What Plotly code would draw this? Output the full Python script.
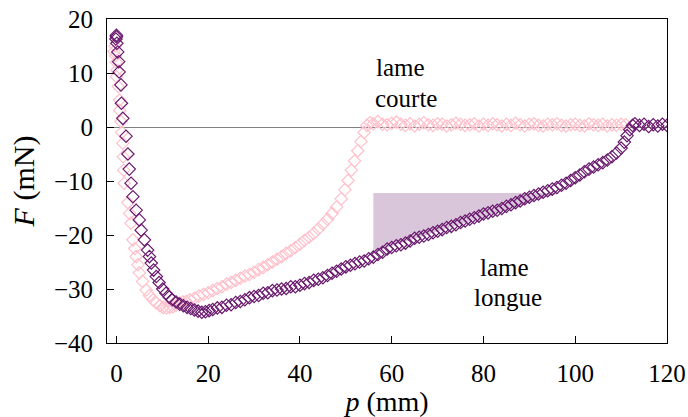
import plotly.graph_objects as go

# lame longue (purple)
p_longue = [0.0, 0.0, -0.1, 0.1, 0.3, 0.5, 0.6, 1.0, 1.1, 1.4, 2.1, 2.5, 2.8, 3.2, 3.6, 4.3, 5.0, 5.4, 6.1, 6.8,
            7.2, 7.6, 8.1, 8.7, 9.3, 10.1, 10.8, 11.5, 12.2, 13.0, 13.8, 14.6, 15.4, 16.2, 17.0, 17.8, 18.6, 19.4,
            20.2, 21.0, 22.0, 23.0, 24.0, 25.0, 26.0, 27.0, 28.0, 29.0, 30.0, 31.0, 32.0, 33.0, 34.0, 35.0, 36.0,
            37.0, 38.0, 39.0, 40.0, 41.0, 42.0, 43.0, 44.0, 45.0, 46.0, 47.0, 48.0, 49.0, 50.0, 51.0, 52.0, 53.0,
            54.0, 55.0, 56.0, 57.0, 58.0, 59.0, 60.0, 61.0, 62.0, 63.0, 64.0, 65.0, 66.0, 67.0, 68.0, 69.0, 70.0,
            71.0, 72.0, 73.0, 74.0, 75.0, 76.0, 77.0, 78.0, 79.0, 80.0, 81.0, 82.0, 83.0, 84.0, 85.0, 86.0, 87.0,
            88.0, 89.0, 90.0, 91.0, 92.0, 93.0, 94.0, 95.0, 96.0, 97.0, 98.0, 99.0, 100.0, 101.0, 102.0, 103.0,
            104.0, 105.0, 106.0, 107.0, 108.0, 109.0, 110.0, 110.7, 111.3, 111.9, 112.5, 113.0, 114.0, 115.0,
            116.0, 117.0, 118.0, 119.0, 120.0]
F_longue = [17.0, 16.7, 16.3, 15.5, 13.9, 12.1, 10.2, 7.8, 4.4, 1.6, -1.7, -5.0, -7.8, -10.4, -12.9, -15.4, -17.2,
            -19.1, -20.9, -22.8, -24.0, -25.2, -26.5, -27.7, -28.8, -30.0, -30.8, -31.5, -32.0, -32.4, -32.8, -33.1,
            -33.4, -33.6, -33.9, -34.1, -34.3, -34.2, -34.0, -33.8, -33.5, -33.4, -33.0, -32.9, -32.5, -32.3, -32.0,
            -31.6, -31.4, -31.2, -30.8, -30.7, -30.3, -30.2, -30.0, -29.9, -29.6, -29.6, -29.3, -29.0, -28.8, -28.4,
            -28.2, -27.9, -27.5, -27.1, -26.7, -26.3, -25.9, -25.6, -25.3, -25.0, -24.8, -24.4, -24.1, -23.6, -23.2,
            -22.6, -22.3, -22.0, -21.8, -21.5, -21.1, -20.6, -20.4, -20.2, -19.9, -19.6, -19.3, -19.0, -18.6, -18.4,
            -18.1, -17.7, -17.4, -17.1, -16.8, -16.5, -16.1, -15.9, -15.6, -15.4, -15.1, -14.7, -14.4, -14.0, -13.7,
            -13.3, -13.0, -12.7, -12.4, -12.1, -11.8, -11.5, -11.2, -10.8, -10.4, -9.9, -9.4, -8.9, -8.3, -7.8,
            -7.4, -7.0, -6.6, -6.1, -5.5, -4.8, -3.9, -2.8, -1.6, -0.5, 0.3, 0.6, 0.3, 0.5, 0.1, 0.4, 0.2, 0.5, 0.3]

# lame courte (pink)
p_courte = [-0.3, -0.5, -0.2, 0.0, 0.1, 0.0, 0.4, 0.7, 0.7, 1.0, 1.2, 1.4, 1.5, 1.6, 1.7, 2.5, 2.9, 3.2, 3.6, 4.0,
            4.3, 4.7, 5.0, 5.7, 6.5, 7.2, 8.0, 8.7, 9.5, 10.2, 10.9, 11.6, 12.3, 13.0, 13.8, 14.5, 15.2, 16.0,
            17.0, 18.0, 19.0, 20.0, 21.0, 22.0, 23.0, 24.0, 25.0, 26.0, 27.0, 28.0, 29.0, 30.0, 31.0, 32.0, 33.0,
            34.0, 35.0, 36.0, 37.0, 38.0, 39.0, 40.0, 41.0, 42.0, 43.0, 44.0, 45.0, 46.0, 47.0, 48.0, 49.0, 49.8,
            50.5, 51.2, 51.9, 52.6, 53.3, 54.0, 54.6, 55.3, 56.0, 57.0, 58.0, 59.0, 60.0, 61.0, 62.0, 63.0, 64.0,
            65.0, 66.0, 67.0, 68.0, 69.0, 70.0, 71.0, 72.0, 73.0, 74.0, 75.0, 76.0, 77.0, 78.0, 79.0, 80.0, 81.0,
            82.0, 83.0, 84.0, 85.0, 86.0, 87.0, 88.0, 89.0, 90.0, 91.0, 92.0, 93.0, 94.0, 95.0, 96.0, 97.0, 98.0,
            99.0, 100.0, 101.0, 102.0, 103.0, 104.0, 105.0, 106.0, 107.0, 108.0, 109.0, 110.0, 111.0, 112.0, 113.0]
F_courte = [15.0, 14.0, 13.2, 12.0, 10.5, 9.3, 7.5, 5.0, 3.1, 1.0, -1.0, -3.0, -5.5, -8.0, -10.4, -14.0, -16.0,
            -17.8, -20.9, -22.5, -24.0, -25.5, -27.0, -28.6, -30.2, -31.2, -32.0, -32.6, -33.1, -33.4, -33.5, -33.4,
            -33.3, -33.0, -32.6, -32.4, -32.3, -32.0, -31.7, -31.3, -31.0, -30.7, -30.3, -29.9, -29.6, -29.1, -28.8,
            -28.4, -28.0, -27.6, -27.3, -26.9, -26.4, -26.0, -25.5, -25.0, -24.5, -24.0, -23.4, -22.9, -22.3, -21.7,
            -21.0, -20.4, -19.7, -18.9, -18.0, -17.1, -16.0, -14.8, -13.3, -11.6, -9.9, -8.0, -6.3, -4.4, -2.7,
            -1.0, 0.3, 0.8, 0.6, 1.0, 0.5, 0.4, 0.7, 0.9, 0.5, 0.3, 0.6, 0.2, 0.5, 0.8, 0.4, 0.3, 0.6, 0.5, 0.2,
            0.4, 0.7, 0.5, 0.3, 0.4, 0.6, 0.2, 0.5, 0.3, 0.6, 0.4, 0.2, 0.5, 0.3, 0.7, 0.4, 0.2, 0.5, 0.6, 0.3,
            0.2, 0.5, 0.4, 0.6, 0.3, 0.2, 0.4, 0.5, 0.3, 0.2, 0.6, 0.4, 0.3, 0.5, 0.2, 0.4, 0.3, 0.5, 0.4]

# slope triangle
tri_p = [56.0, 56.0, 96.7, 56.0]
tri_F = [-23.1, -12.2, -12.2, -23.1]

x_ticks = [0, 20, 40, 60, 80, 100, 120]
y_ticks = [-40, -30, -20, -10, 0, 10, 20]

PURPLE = "#6a1a6e"
PINK = "#ffc0cb"
FONT = "'Liberation Serif', 'Times New Roman', serif"

fig = go.Figure()
fig.add_trace(go.Scatter(x=tri_p, y=tri_F, mode="lines", fill="toself",
                         fillcolor="rgba(106,26,110,0.25)", line=dict(width=0),
                         hoverinfo="skip", showlegend=False))
fig.add_trace(go.Scatter(x=p_courte, y=F_courte, mode="markers", name="lame courte",
                         marker=dict(symbol="diamond-open", size=9.5, color=PINK, line=dict(width=1.2, color=PINK)),
                         showlegend=False))
fig.add_trace(go.Scatter(x=p_longue, y=F_longue, mode="markers", name="lame longue",
                         marker=dict(symbol="diamond-open", size=9.5, color=PURPLE, line=dict(width=1.2, color=PURPLE)),
                         showlegend=False))

ann_font = dict(family=FONT, size=25, color="black")
for txt, px, fy in [("lame", 62.0, 11.1), ("courte", 63.1, 5.2), ("lame", 84.5, -26.1), ("longue", 85.3, -31.5)]:
    fig.add_annotation(x=px, y=fy, text=txt, showarrow=False, font=ann_font, xanchor="center", yanchor="middle")

fig.update_layout(
    width=688, height=417,
    margin=dict(l=107, r=21, t=19, b=74, autoexpand=False),
    paper_bgcolor="white", plot_bgcolor="white",
    font=dict(family=FONT, size=25, color="black"),
    xaxis=dict(range=[-2.05, 120], tickvals=x_ticks, ticks="inside", ticklen=7, tickwidth=1,
               tickcolor="black", showline=True, linecolor="black", linewidth=1, mirror=True,
               showgrid=False, zeroline=False, ticklabelstandoff=8, automargin=False,
               title=dict(text="<i>p</i> (mm)", font=dict(size=28), standoff=10)),
    yaxis=dict(range=[-40, 20], tickvals=y_ticks, ticks="inside", ticklen=7, tickwidth=1,
               tickcolor="black", showline=True, linecolor="black", linewidth=1, mirror=True,
               showgrid=False, zeroline=True, zerolinecolor="#808080", zerolinewidth=1,
               ticklabelstandoff=8, automargin=False,
               title=dict(text="<i>F</i> (mN)", font=dict(size=30), standoff=10)),
)

fig.write_html("out.html", config={"displayModeBar": False},
               post_script="document.body.style.margin='0';document.body.style.overflow='hidden';")
